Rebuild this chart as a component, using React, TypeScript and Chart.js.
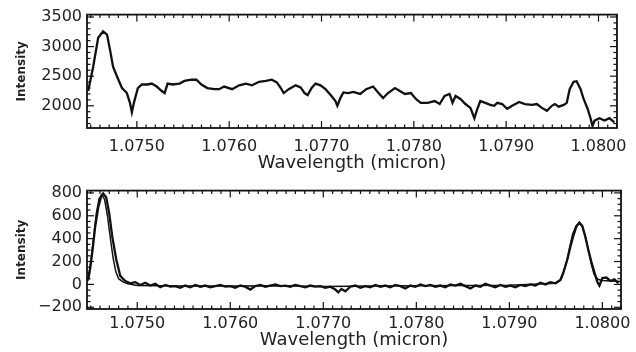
import React, { useEffect, useRef } from "react";
import { Chart, registerables } from "chart.js";

Chart.register(...registerables);

// ---------- Axis ticks ----------
const xTickValues = [1.075, 1.076, 1.077, 1.078, 1.079, 1.08];
const xRange = [1.07446, 1.0802];
const topYTicks = [2000, 2500, 3000, 3500];
const topYRange = [1625, 3540];
const botYTicks = [-200, 0, 200, 400, 600, 800];
const botYRange = [-215, 820];

// ---------- Top panel: observed spectrum ----------
const topWavelength = [
  1.074473, 1.074527, 1.074581, 1.074634, 1.074677, 1.07471, 1.074742, 1.074785, 1.074839, 1.074892,
  1.074925, 1.074946, 1.074968, 1.075011, 1.075054, 1.075118, 1.075161, 1.075215, 1.075269, 1.075301,
  1.075333, 1.075387, 1.075462, 1.075516, 1.075591, 1.075645, 1.075699, 1.075763, 1.075839, 1.075892,
  1.075946, 1.076032, 1.076108, 1.076183, 1.076247, 1.076323, 1.076398, 1.076462, 1.076516, 1.076559,
  1.076591, 1.076645, 1.07672, 1.076774, 1.076817, 1.07685, 1.076893, 1.076935, 1.076989, 1.077043,
  1.077108, 1.077151, 1.077172, 1.077204, 1.077237, 1.07729, 1.077344, 1.077419, 1.077484, 1.077559,
  1.077613, 1.077667, 1.07772, 1.077796, 1.077849, 1.077903, 1.077968, 1.078022, 1.078075, 1.078151,
  1.078226, 1.07828, 1.078333, 1.078387, 1.078419, 1.078452, 1.078505, 1.078559, 1.078613, 1.078656,
  1.078688, 1.07872, 1.078774, 1.078828, 1.078871, 1.078903, 1.078957, 1.079011, 1.079065, 1.07914,
  1.079204, 1.07928, 1.079333, 1.079387, 1.079441, 1.079495, 1.079527, 1.07957, 1.079624, 1.079656,
  1.079688, 1.079731, 1.079763, 1.079806, 1.079839, 1.079882, 1.079914, 1.079935, 1.079957, 1.080011,
  1.080065, 1.080118, 1.080172,
];
const topIntensity = [
  2250, 2660, 3150, 3255, 3200, 2940, 2660, 2495, 2300, 2215,
  2050, 1890, 2050, 2300, 2360, 2360, 2375, 2325, 2250, 2215,
  2375, 2360, 2375, 2420, 2440, 2440, 2360, 2300, 2280, 2280,
  2325, 2280, 2345, 2375, 2345, 2405, 2420, 2440, 2395, 2300,
  2215, 2280, 2345, 2310, 2215, 2180, 2300, 2375, 2345, 2280,
  2165, 2080, 2000, 2130, 2225, 2215, 2235, 2200, 2280, 2325,
  2225, 2130, 2215, 2300, 2250, 2200, 2215, 2115, 2050, 2050,
  2080, 2030, 2165, 2200, 2050, 2165, 2115, 2030, 1965, 1790,
  1950, 2080, 2050, 2015, 2000, 2050, 2030, 1950, 2000, 2065,
  2030, 2015, 2030, 1965, 1915, 2000, 2030, 1985, 2015, 2050,
  2280, 2405, 2415, 2280, 2115, 1950, 1790, 1660, 1750, 1790,
  1750, 1790, 1720,
];

// ---------- Bottom panel: observed residual spectrum ----------
const botWavelength = [
  1.074473, 1.074495, 1.074516, 1.074548, 1.074581, 1.074613, 1.074634, 1.074667, 1.074699, 1.074731,
  1.074774, 1.074817, 1.074871, 1.074925, 1.074978, 1.075032, 1.075086, 1.07514, 1.075194, 1.075247,
  1.075301, 1.075355, 1.075409, 1.075462, 1.075516, 1.07557, 1.075624, 1.075677, 1.075731, 1.075785,
  1.075839, 1.075892, 1.075946, 1.076, 1.076054, 1.076108, 1.076161, 1.076215, 1.076269, 1.076323,
  1.076376, 1.07643, 1.076484, 1.076538, 1.076591, 1.076645, 1.076699, 1.076753, 1.076806, 1.07686,
  1.076914, 1.076968, 1.077022, 1.077075, 1.077129, 1.077161, 1.077194, 1.077237, 1.07729, 1.077344,
  1.077398, 1.077452, 1.077505, 1.077559, 1.077613, 1.077667, 1.07772, 1.077774, 1.077828, 1.077882,
  1.077935, 1.077989, 1.078043, 1.078097, 1.078151, 1.078204, 1.078258, 1.078312, 1.078366, 1.078419,
  1.078473, 1.078527, 1.078581, 1.078634, 1.078688, 1.078742, 1.078796, 1.078849, 1.078903, 1.078957,
  1.079011, 1.079065, 1.079118, 1.079172, 1.079226, 1.07928, 1.079333, 1.079387, 1.079441, 1.079495,
  1.079548, 1.079581, 1.079624, 1.079656, 1.079688, 1.07972, 1.079753, 1.079785, 1.079817, 1.079849,
  1.079882, 1.079914, 1.079946, 1.079968, 1.08, 1.080043, 1.080086, 1.080129, 1.080172,
];
const botIntensity = [
  40, 145, 275, 505, 675, 770, 795, 760, 620, 420,
  220, 75, 30, 10, 20, -5, 15, -10, 5, -25,
  -5, -20, -15, -30, -10, -25, -5, -20, -10, -25,
  -15, -5, -20, -15, -30, -10, -20, -45, -15, -5,
  -20, -10, 0, -15, -10, -20, -5, -15, -25, -10,
  -20, -15, -30, -20, -45, -70, -40, -60, -20, -10,
  -30, -15, -25, -5, -20, -10, -25, -5, -15, -35,
  -10, -20, 0, -15, -5, -20, -10, -25, 0, -10,
  5, -15, -35, -10, -20, 5, -10, -25, -5, -20,
  -10, -25, -5, -15, 0, -10, 15, 0, 20, 10,
  40, 105, 220, 330, 425, 505, 540, 510, 415, 300,
  195, 105, 20, -10, 55, 60, 30, 45, 10,
];

// ---------- Bottom panel: fitted profile ----------
const fitWavelength = [
  1.07447, 1.0745, 1.07453, 1.07456, 1.07459, 1.07462, 1.07465, 1.07468, 1.07471, 1.07474,
  1.07477, 1.0748, 1.07485, 1.0749, 1.075, 1.0755, 1.076, 1.0765, 1.077, 1.0775,
  1.078, 1.0785, 1.079, 1.0795, 1.07955, 1.07958, 1.07962, 1.07965, 1.07968, 1.07972,
  1.07975, 1.07978, 1.07982, 1.07985, 1.07988, 1.07991, 1.07995, 1.08, 1.0801, 1.0802,
];
const fitIntensity = [
  30, 190, 400, 620, 750, 785, 740, 600, 410, 235,
  110, 50, 20, 5, -10, -15, -15, -12, -18, -15,
  -12, -10, -8, 10, 35, 95, 215, 330, 440, 515,
  535, 510, 410, 295, 180, 90, 45, 35, 30, 25,
];

const FONT = "'DejaVu Sans', sans-serif";
const INK = "#111";

const framePlugin = {
  id: "idlFrame",
  afterDatasetsDraw(chart: any) {
    const { ctx, chartArea } = chart;
    const { left, right, top, bottom } = chartArea;
    const xs = chart.scales.x;
    const ys = chart.scales.y;
    const o = chart.options.plugins.idlFrame || {};
    ctx.save();
    ctx.strokeStyle = INK;
    ctx.lineWidth = 1.8;
    ctx.strokeRect(left, top, right - left, bottom - top);
    ctx.lineWidth = 1.2;
    const seg = (x1: number, y1: number, x2: number, y2: number) => {
      ctx.beginPath();
      ctx.moveTo(x1, y1);
      ctx.lineTo(x2, y2);
      ctx.stroke();
    };
    // x ticks (top & bottom edges)
    const xMinorN = Math.round((xs.max - xs.min) / o.xMinor) + 2;
    const xStart = Math.ceil(xs.min / o.xMinor);
    for (let i = 0; i < xMinorN; i++) {
      const v = (xStart + i) * o.xMinor;
      if (v < xs.min || v > xs.max) continue;
      const isMajor = Math.abs(v / o.xMajor - Math.round(v / o.xMajor)) < 1e-6;
      const len = isMajor ? 7 : 3.5;
      const px = xs.getPixelForValue(v);
      seg(px, bottom, px, bottom - len);
      seg(px, top, px, top + len);
    }
    // y ticks (left & right edges)
    const yStart = Math.ceil(ys.min / o.yMinor);
    const yEnd = Math.floor(ys.max / o.yMinor);
    for (let k = yStart; k <= yEnd; k++) {
      const v = k * o.yMinor;
      const isMajor = Math.abs(v / o.yMajor - Math.round(v / o.yMajor)) < 1e-6;
      const len = isMajor ? 7 : 3.5;
      const py = ys.getPixelForValue(v);
      seg(left, py, left + len, py);
      seg(right, py, right - len, py);
    }
    ctx.restore();
  },
};

function makeOptions(p: {
  yRange: number[];
  yTicks: number[];
  padTop: number;
  xAxisH: number;
  xTickPad: number;
  xTitlePad: number;
  yMinor: number;
  yMajor: number;
}) {
  return {
    animation: false,
    responsive: false,
    events: [],
    layout: { padding: { top: p.padTop, right: 15, bottom: 0, left: 0 } },
    plugins: {
      legend: { display: false },
      tooltip: { enabled: false },
      idlFrame: { xMinor: 0.0001, xMajor: 0.001, yMinor: p.yMinor, yMajor: p.yMajor },
    },
    scales: {
      x: {
        type: "linear",
        min: xRange[0],
        max: xRange[1],
        grid: { display: false, drawTicks: false },
        border: { display: false },
        afterBuildTicks: (s: any) => {
          s.ticks = xTickValues.map((v) => ({ value: v }));
        },
        afterFit: (s: any) => {
          s.height = p.xAxisH;
        },
        ticks: {
          padding: p.xTickPad,
          color: "#222",
          font: { family: FONT, size: 16 },
          maxRotation: 0,
          autoSkip: false,
          callback: (v: any) => Number(v).toFixed(4),
        },
        title: {
          display: true,
          text: "Wavelength (micron)",
          color: "#222",
          font: { family: FONT, size: 18 },
          padding: { top: 0, bottom: p.xTitlePad },
        },
      },
      y: {
        type: "linear",
        min: p.yRange[0],
        max: p.yRange[1],
        grid: { display: false, drawTicks: false },
        border: { display: false },
        afterBuildTicks: (s: any) => {
          s.ticks = p.yTicks.map((v) => ({ value: v }));
        },
        afterFit: (s: any) => {
          s.width = 87;
        },
        ticks: {
          padding: 5,
          color: "#222",
          font: { family: FONT, size: 16 },
          autoSkip: false,
          callback: (v: any) => (Number(v) < 0 ? "\u2212" + Math.abs(Number(v)) : String(v)),
        },
        title: {
          display: true,
          text: "Intensity",
          color: "#222",
          font: { family: FONT, size: 12, weight: "bold" },
          padding: { top: 14.5, bottom: 0 },
        },
      },
    },
  };
}

const lineStyle = {
  borderColor: INK,
  borderWidth: 2.3,
  pointRadius: 0,
  tension: 0,
  fill: false,
};

export default function App() {
  const topRef = useRef<HTMLCanvasElement>(null);
  const botRef = useRef<HTMLCanvasElement>(null);

  useEffect(() => {
    const top = new Chart(topRef.current as HTMLCanvasElement, {
      type: "line",
      data: {
        datasets: [
          {
            ...lineStyle,
            data: topWavelength.map((x, i) => ({ x, y: topIntensity[i] })),
          },
        ],
      },
      options: makeOptions({
        yRange: topYRange,
        yTicks: topYTicks,
        padTop: 10,
        xAxisH: 48,
        xTickPad: 9,
        xTitlePad: 2,
        yMinor: 100,
        yMajor: 500,
      }) as any,
      plugins: [framePlugin],
    });
    const bot = new Chart(botRef.current as HTMLCanvasElement, {
      type: "line",
      data: {
        datasets: [
          {
            ...lineStyle,
            borderWidth: 1.5,
            data: fitWavelength.map((x, i) => ({ x, y: fitIntensity[i] })),
          },
          {
            ...lineStyle,
            data: botWavelength.map((x, i) => ({ x, y: botIntensity[i] })),
          },
        ],
      },
      options: makeOptions({
        yRange: botYRange,
        yTicks: botYTicks,
        padTop: 13,
        xAxisH: 43,
        xTickPad: 5,
        xTitlePad: 1,
        yMinor: 50,
        yMajor: 200,
      }) as any,
      plugins: [framePlugin],
    });
    return () => {
      top.destroy();
      bot.destroy();
    };
  }, []);

  return (
    <div style={{ position: "absolute", left: 0, top: 0, width: 636, height: 352, background: "#fff" }}>
      <canvas ref={topRef} width={636} height={176} style={{ display: "block" }} />
      <canvas ref={botRef} width={636} height={176} style={{ display: "block" }} />
    </div>
  );
}
